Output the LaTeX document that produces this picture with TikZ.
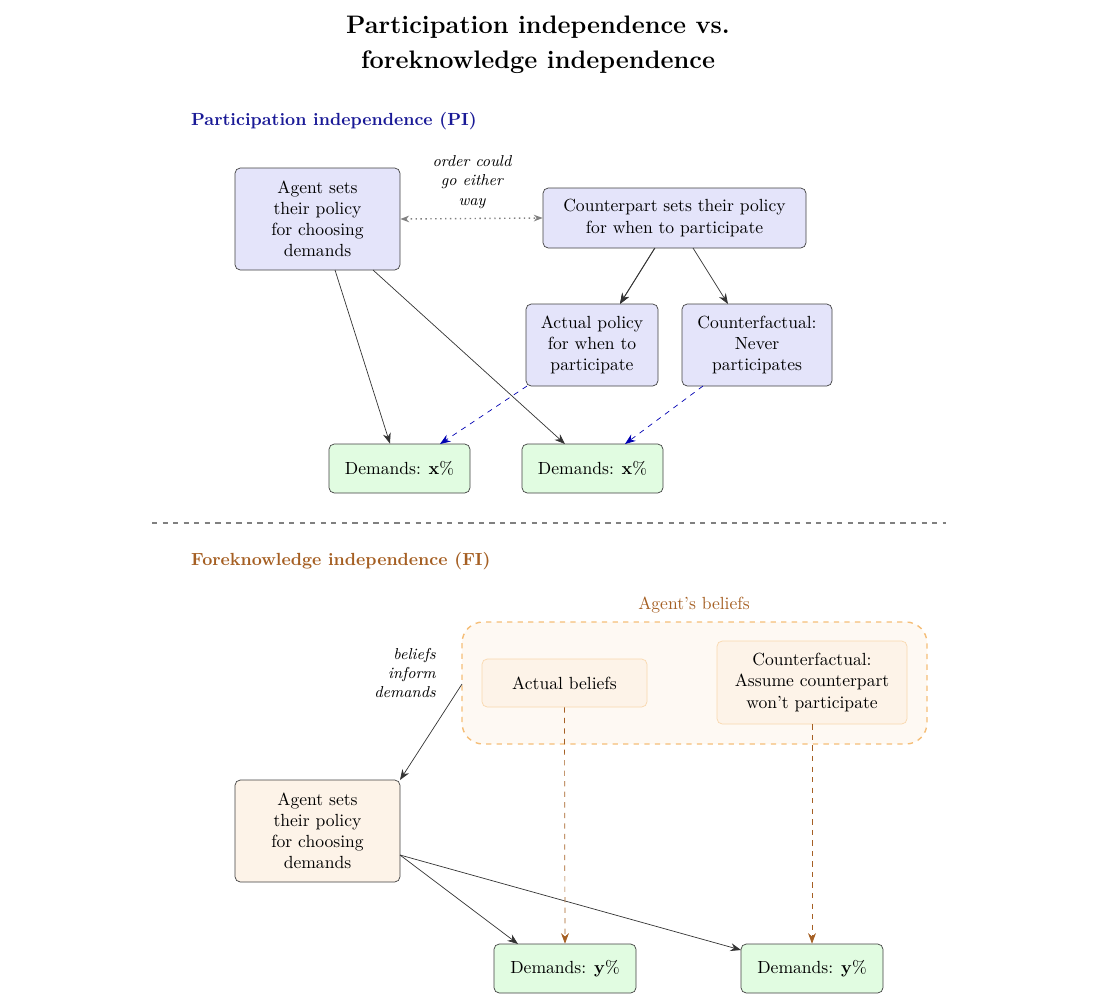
\documentclass[tikz,border=0pt]{standalone}
\usetikzlibrary{arrows.meta}
\definecolor{piblue}{RGB}{25,25,150}
\definecolor{fibrown}{RGB}{165,95,35}
\definecolor{lav}{RGB}{228,228,250}
\definecolor{grn}{RGB}{225,252,225}
\definecolor{peach}{RGB}{253,243,232}
\definecolor{orline}{RGB}{245,190,120}
\begin{document}
\begin{tikzpicture}[x=0.02cm,y=-0.02cm,
  box/.style={draw=black!75,rounded corners=3pt,align=center,inner sep=0pt},
  pibox/.style={box,fill=lav},
  dbox/.style={box,fill=grn},
  arr/.style={-{Stealth[length=6pt]},black!80},
  it/.style={font=\small\itshape,align=center}]
\useasboundingbox (0,0) rectangle (1100,1008);
\node[font=\Large\bfseries,align=center] (title) at (538,45) {Participation independence vs.\\[2pt] foreknowledge independence};
\node[anchor=west,font=\bfseries,text=piblue] (pih) at (185,121) {Participation independence (PI)};
\node[pibox,minimum width=165*0.02cm,minimum height=102*0.02cm] (ag) at (317.5,219) {Agent sets\\their policy\\for choosing\\demands};
\node[pibox,minimum width=263*0.02cm,minimum height=60*0.02cm] (cp) at (674.5,218) {Counterpart sets their policy\\for when to participate};
\node[it] (ord) at (472,182) {order could\\go either\\way};
\node[pibox,minimum width=132*0.02cm,minimum height=82*0.02cm] (ap) at (592,345) {Actual policy\\for when to\\participate};
\node[pibox,minimum width=150*0.02cm,minimum height=82*0.02cm] (cf) at (757,345) {Counterfactual:\\Never\\participates};
\node[dbox,minimum width=141*0.02cm,minimum height=49*0.02cm] (d1) at (399.5,468.5) {Demands: $\mathbf{x\%}$};
\node[dbox,minimum width=141*0.02cm,minimum height=49*0.02cm] (d2) at (592.5,468.5) {Demands: $\mathbf{x\%}$};
\draw[{Stealth[length=5pt]}-{Stealth[length=5pt]},gray,dotted,thick] (ag.east) -- (cp.west);
\draw[arr] (cp.south)++(-20,0) coordinate (c1) (c1) -- (ap.north -| 620,0);
\draw[arr] (655,248) -- (620,304);
\draw[arr] (693,248) -- (728,304);
\draw[arr] (335,270) -- (d1.north -| 390,0);
\draw[arr] (373,270) -- (565,444);
\draw[-{Stealth[length=6pt]},blue!70!black,dashed] (527,386) -- (440,444);
\draw[-{Stealth[length=6pt]},blue!70!black,dashed] (703,386) -- (625,444);
\draw[gray,dashed,thick] (152,523) -- (946,523);
\node[anchor=west,font=\bfseries,text=fibrown] (fih) at (185,561) {Foreknowledge independence (FI)};
\node[text=fibrown] (abl) at (694,605) {Agent's beliefs};
\draw[orline,dashed,thick,fill=peach!50,rounded corners=12pt] (462,622) rectangle (927,744);
\node[box,draw=orline!60,fill=peach,minimum width=165*0.02cm,minimum height=48*0.02cm] (ab) at (564.5,683) {Actual beliefs};
\node[box,draw=orline!60,fill=peach,minimum width=190*0.02cm,minimum height=83*0.02cm] (cb) at (812,682.5) {Counterfactual:\\Assume counterpart\\won't participate};
\node[it,align=right] (bid) at (405,673) {beliefs\\inform\\demands};
\node[box,fill=peach,minimum width=165*0.02cm,minimum height=102*0.02cm] (ag2) at (317.5,831) {Agent sets\\their policy\\for choosing\\demands};
\node[dbox,minimum width=142*0.02cm,minimum height=49*0.02cm] (y1) at (565,968.5) {Demands: $\mathbf{y\%}$};
\node[dbox,minimum width=142*0.02cm,minimum height=49*0.02cm] (y2) at (812,968.5) {Demands: $\mathbf{y\%}$};
\draw[arr] (462,684) -- (400,780);
\draw[arr] (400,855) -- (518,944);
\draw[arr] (400,855) -- (741,950);
\draw[-{Stealth[length=6pt]},fibrown,dashed] (ab.south) -- (y1.north);
\draw[-{Stealth[length=6pt]},fibrown,dashed] (cb.south) -- (y2.north);
\end{tikzpicture}
\end{document}
